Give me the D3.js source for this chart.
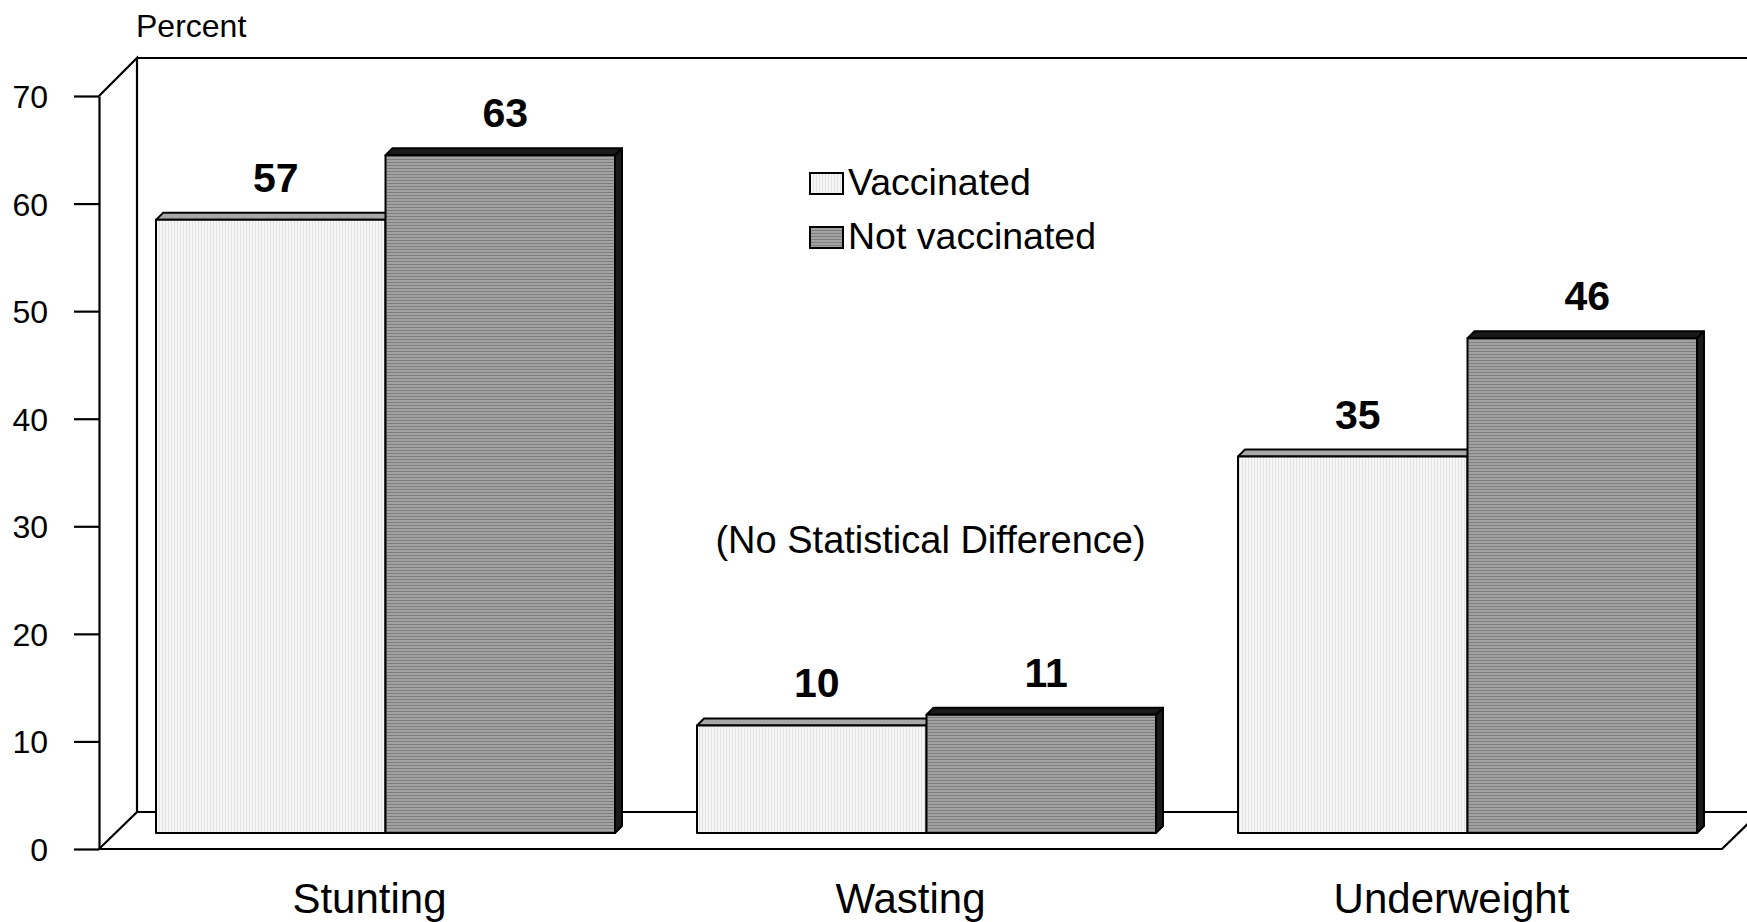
<!DOCTYPE html>
<html>
<head>
<meta charset="utf-8">
<script src="https://cdn.jsdelivr.net/npm/d3@7"></script>
<style>
  html, body { margin: 0; padding: 0; background: #fff; }
  svg { display: block; font-family: "Liberation Sans", Arial, sans-serif; }
</style>
</head>
<body>
<script>
// ---- Data ----
const categories = ["Stunting", "Wasting", "Underweight"];
const seriesNames = ["Vaccinated", "Not vaccinated"];
const vaccinated = [57, 10, 35];
const notVaccinated = [63, 11, 46];
const yTicks = [0, 10, 20, 30, 40, 50, 60, 70];
const yAxisTitle = "Percent";
const note = "(No Statistical Difference)";

// ---- Layout ----
const W = 1747, H = 922;
const F = 16;   // offset of front plane relative to bar plane
const B = 22;   // offset of back wall relative to bar plane
const D = 7;    // 3D depth of each bar

const svg = d3.select("body").append("svg").attr("width", W).attr("height", H);

const defs = svg.append("defs");
const pLight = defs.append("pattern").attr("id", "pLight").attr("patternUnits", "userSpaceOnUse")
  .attr("width", 3).attr("height", 3);
pLight.append("rect").attr("width", 3).attr("height", 3).attr("fill", "#f6f6f6");
pLight.append("rect").attr("width", 1).attr("height", 3).attr("fill", "#e2e2e2");
const pDark = defs.append("pattern").attr("id", "pDark").attr("patternUnits", "userSpaceOnUse")
  .attr("width", 3).attr("height", 3);
pDark.append("rect").attr("width", 3).attr("height", 3).attr("fill", "#a2a2a2");
pDark.append("rect").attr("width", 3).attr("height", 1).attr("fill", "#7e7e7e");

const x = d3.scaleBand().domain(categories).range([115, 1738])
  .paddingInner(0.1516).paddingOuter(0.0758);
const xs = d3.scaleBand().domain(seriesNames).range([0, x.bandwidth()]);
const y = d3.scaleLinear().domain([0, 70]).range([833, 80]);

const x0 = x.range()[0], xR = x.range()[1];
const line = (pts) => "M" + pts.map(p => p.join(",")).join("L");

// ---- Walls / floor ----
const walls = svg.append("g").attr("fill", "none").attr("stroke", "#000").attr("stroke-width", 2.2);
walls.append("path").attr("d", line([[x0 - F, y(70) + F], [x0 + B, y(70) - B], [x0 + B, y(0) - B + 1], [x0 - F, y(0) + F]]));
walls.append("path").attr("d", line([[x0 + B, y(70) - B], [xR + B + 20, y(70) - B]]));
walls.append("path").attr("d", line([[x0 - F, y(0) + F], [xR - F, y(0) + F], [xR + B, y(0) - B + 1], [x0 + B, y(0) - B + 1]]));

// ---- Y axis (front plane) ----
const yFront = d3.scaleLinear().domain(y.domain()).range(y.range().map(v => v + F));
const yAxis = svg.append("g").attr("transform", `translate(${x0 - F},0)`)
  .call(d3.axisLeft(yFront).tickValues(yTicks).tickSize(25).tickSizeOuter(0).tickPadding(26));
yAxis.selectAll("path, line").attr("stroke", "#000").attr("stroke-width", 2.2);
yAxis.selectAll("text").attr("font-size", 32).attr("font-family", "Liberation Sans, Arial, sans-serif")
  .attr("fill", "#000").attr("dy", "0.36em");

svg.append("text").attr("x", 136).attr("y", 37).attr("font-size", 32).text(yAxisTitle);

// ---- X axis labels (front plane) ----
const xFront = d3.scaleBand().domain(categories).range([x0 - F, xR - F])
  .paddingInner(0.1516).paddingOuter(0.0758);
const xAxis = svg.append("g").attr("transform", `translate(0,${y(0) + F})`)
  .call(d3.axisBottom(xFront).tickSize(0).tickSizeOuter(0).tickPadding(34));
xAxis.select(".domain").remove();
xAxis.selectAll("text").attr("font-size", 42).attr("font-family", "Liberation Sans, Arial, sans-serif")
  .attr("fill", "#000").attr("dy", "0.71em");

// ---- Bars ----
const rows = categories.map((c, i) => ({ cat: c, vals: [vaccinated[i], notVaccinated[i]] }));
const barsG = svg.append("g");
rows.forEach(r => {
  r.vals.forEach((v, si) => {
    const name = seriesNames[si];
    const bx0 = x(r.cat) + xs(name), bx1 = bx0 + xs.bandwidth();
    const yt = y(v), yb = y(0);
    const g = barsG.append("g").attr("stroke", "#000").attr("stroke-width", 2).attr("stroke-linejoin", "round");
    g.append("path").attr("d", line([[bx0, yt], [bx0 + D, yt - D], [bx1 + D, yt - D], [bx1, yt]]) + "Z")
      .attr("fill", si === 0 ? "#a8a8a8" : "#1a1a1a");
    g.append("path").attr("d", line([[bx1, yt], [bx1 + D, yt - D], [bx1 + D, yb - D], [bx1, yb]]) + "Z")
      .attr("fill", si === 0 ? "#a8a8a8" : "#1a1a1a");
    g.append("rect").attr("x", bx0).attr("y", yt).attr("width", bx1 - bx0).attr("height", yb - yt)
      .attr("fill", si === 0 ? "url(#pLight)" : "url(#pDark)");
    svg.append("text").attr("x", (bx0 + bx1) / 2 + 5).attr("y", yt - 28)
      .attr("text-anchor", "middle").attr("font-size", 41).attr("font-weight", "bold").text(v);
  });
});

// ---- Note ----
svg.append("text").attr("x", x("Wasting") + x.bandwidth() / 2 + 4).attr("y", y(26))
  .attr("text-anchor", "middle").attr("font-size", 38).text(note);

// ---- Legend ----
const legend = svg.append("g").attr("transform", "translate(810,173)");
seriesNames.forEach((s, i) => {
  const lg = legend.append("g").attr("transform", `translate(0,${i * 54})`);
  lg.append("rect").attr("width", 33).attr("height", 21)
    .attr("fill", i === 0 ? "url(#pLight)" : "url(#pDark)").attr("stroke", "#000").attr("stroke-width", 2);
  lg.append("text").attr("x", 38).attr("y", 22).attr("font-size", 37.5).text(s);
});
</script>
</body>
</html>
